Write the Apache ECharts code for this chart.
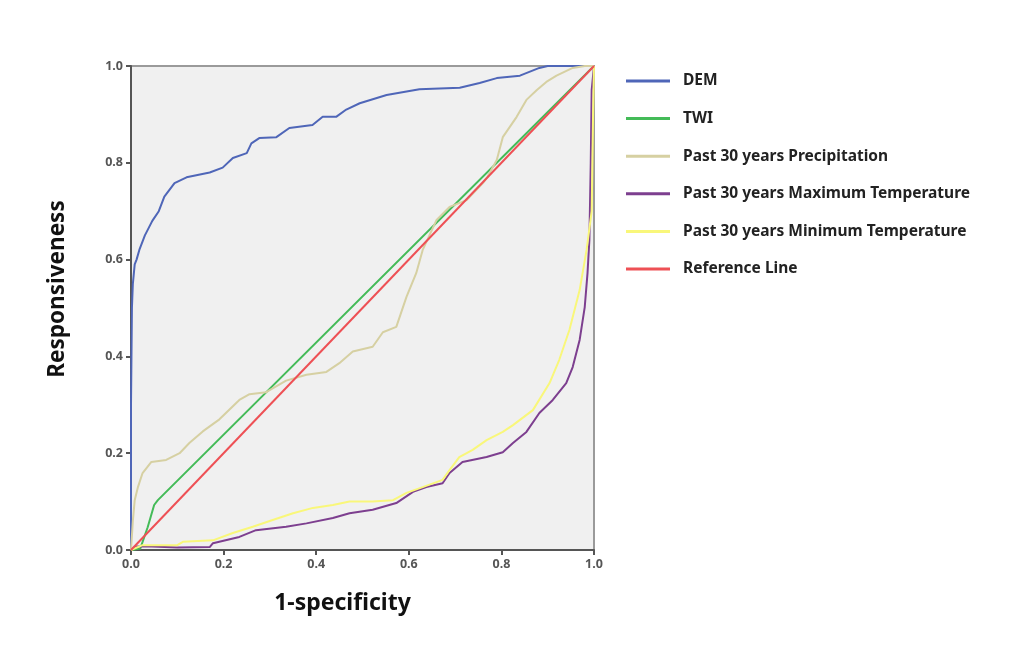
<!DOCTYPE html>
<html>
<head>
<meta charset="utf-8">
<script src="https://cdn.jsdelivr.net/npm/echarts@6/dist/echarts.min.js"></script>
<style>html,body{margin:0;padding:0;background:#fff}#chart{width:1014px;height:648px}</style>
</head>
<body>
<div id="chart"></div>
<script>
var seriesNames = ['DEM', 'TWI', 'Past 30 years Precipitation', 'Past 30 years Maximum Temperature', 'Past 30 years Minimum Temperature', 'Reference Line'];
var seriesColors = ['#4f66b8', '#44bb58', '#d6d0a2', '#7d3f8f', '#f9f77a', '#ee5055'];
var xTicks = [0, 0.2, 0.4, 0.6, 0.8, 1.0];
var yTicks = [0, 0.2, 0.4, 0.6, 0.8, 1.0];

var demPoints = [[0,0],[0,0.3],[0.002,0.5],[0.004,0.55],[0.008,0.59],[0.012,0.6],[0.018,0.62],[0.03,0.65],[0.046,0.68],[0.06,0.7],[0.072,0.73],[0.094,0.758],[0.12,0.77],[0.17,0.78],[0.198,0.79],[0.22,0.81],[0.25,0.82],[0.26,0.84],[0.277,0.851],[0.314,0.853],[0.342,0.872],[0.392,0.878],[0.414,0.895],[0.443,0.895],[0.465,0.91],[0.494,0.923],[0.552,0.94],[0.623,0.952],[0.71,0.955],[0.753,0.965],[0.79,0.975],[0.84,0.98],[0.882,0.996],[0.9,1],[1,1]];
var twiPoints = [[0,0],[0.02,0.003],[0.036,0.047],[0.05,0.093],[0.058,0.103],[1,1]];
var precipPoints = [[0,0],[0.004,0.06],[0.008,0.103],[0.015,0.13],[0.025,0.159],[0.044,0.182],[0.076,0.186],[0.105,0.2],[0.126,0.221],[0.155,0.245],[0.191,0.27],[0.234,0.31],[0.256,0.322],[0.292,0.326],[0.335,0.35],[0.379,0.362],[0.422,0.368],[0.45,0.386],[0.479,0.41],[0.522,0.42],[0.544,0.45],[0.573,0.461],[0.595,0.523],[0.616,0.572],[0.63,0.62],[0.66,0.682],[0.688,0.709],[0.725,0.723],[0.76,0.758],[0.77,0.771],[0.79,0.806],[0.803,0.853],[0.833,0.895],[0.854,0.93],[0.876,0.95],[0.897,0.967],[0.919,0.98],[0.954,0.996],[0.98,1],[1,1]];
var maxTempPoints = [[0,0],[0.01,0.007],[0.045,0.007],[0.1,0.005],[0.17,0.006],[0.177,0.014],[0.234,0.027],[0.27,0.041],[0.335,0.048],[0.379,0.055],[0.436,0.066],[0.472,0.076],[0.522,0.083],[0.573,0.097],[0.609,0.12],[0.638,0.13],[0.673,0.138],[0.688,0.159],[0.716,0.182],[0.768,0.192],[0.803,0.202],[0.825,0.221],[0.854,0.244],[0.882,0.283],[0.911,0.31],[0.94,0.345],[0.954,0.378],[0.969,0.434],[0.98,0.502],[0.986,0.572],[0.99,0.64],[0.993,0.8],[0.995,0.95],[1,1]];
var minTempPoints = [[0,0],[0.025,0.01],[0.1,0.01],[0.112,0.017],[0.177,0.02],[0.22,0.035],[0.263,0.048],[0.306,0.062],[0.35,0.076],[0.393,0.087],[0.436,0.093],[0.472,0.1],[0.522,0.1],[0.566,0.103],[0.595,0.118],[0.63,0.13],[0.673,0.145],[0.688,0.165],[0.709,0.192],[0.738,0.207],[0.768,0.227],[0.803,0.244],[0.825,0.258],[0.868,0.289],[0.904,0.345],[0.925,0.393],[0.947,0.455],[0.969,0.537],[0.984,0.62],[0.995,0.7],[0.998,0.9],[1,1]];
var referencePoints = [[0,0],[1,1]];

var allPoints = [demPoints, twiPoints, precipPoints, maxTempPoints, minTempPoints, referencePoints];

var chart = echarts.init(document.getElementById('chart'), null, {renderer: 'canvas'});
var tickFont = {color: '#555', fontSize: 12.5, fontFamily: 'Noto Sans', fontWeight: 'bold'};
var option = {
  backgroundColor: '#ffffff',
  animation: false,
  grid: {left: 131, right: 420, top: 66, bottom: 98, show: true, backgroundColor: '#f0f0f0', borderColor: '#9a9a9a', borderWidth: 2},
  legend: {
    orient: 'vertical', left: 621, top: 68,
    itemWidth: 44, itemHeight: 3, itemGap: 21.6, icon: 'rect',
    textStyle: {fontSize: 15.5, fontWeight: 'bold', fontFamily: 'Noto Sans', color: '#222', lineHeight: 16, padding: [0, 0, 0, 8]},
    data: seriesNames
  },
  xAxis: {
    type: 'value', min: 0, max: 1, interval: 0.2,
    name: '1-specificity', nameLocation: 'middle', nameGap: 42,
    nameTextStyle: {fontSize: 23, fontWeight: 'bold', fontFamily: 'Noto Sans', color: '#111', padding: [0, 40, 0, 0]},
    axisLine: {show: true, onZero: false, lineStyle: {color: '#555', width: 2}},
    axisTick: {show: true, length: 5, lineStyle: {color: '#555', width: 2}},
    axisLabel: Object.assign({margin: 8, formatter: function (v) { return v.toFixed(1); }}, tickFont),
    splitLine: {show: false}
  },
  yAxis: {
    type: 'value', min: 0, max: 1, interval: 0.2,
    name: 'Responsiveness', nameLocation: 'middle', nameGap: 62,
    nameTextStyle: {fontSize: 22.5, fontWeight: 'bold', fontFamily: 'Noto Sans', color: '#111', padding: [0, 0, 0, 38]},
    axisLine: {show: true, onZero: false, lineStyle: {color: '#555', width: 2}},
    axisTick: {show: true, length: 5, lineStyle: {color: '#555', width: 2}},
    axisLabel: Object.assign({margin: 8, formatter: function (v) { return v.toFixed(1); }}, tickFont),
    splitLine: {show: false}
  },
  series: seriesNames.map(function (name, i) {
    return {
      name: name, type: 'line', data: allPoints[i], showSymbol: false, symbol: 'none',
      color: seriesColors[i],
      lineStyle: {color: seriesColors[i], width: 2},
      z: 2 + i
    };
  })
};
chart.setOption(option);
</script>
</body>
</html>
